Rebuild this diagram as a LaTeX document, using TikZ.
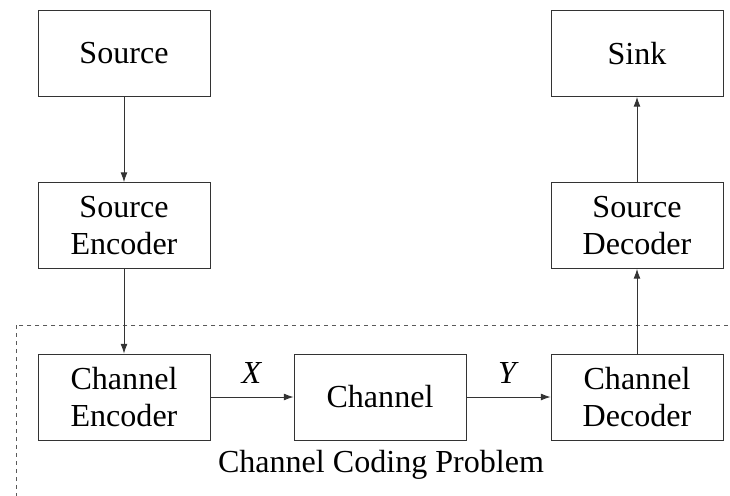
\documentclass[tikz,border=0pt]{standalone}
\usepackage{fontspec}
\setmainfont{Liberation Serif}
\usetikzlibrary{arrows.meta,positioning}

\begin{document}
\begin{tikzpicture}[x=0.025cm,y=-0.025cm,
  block/.style={draw=black!80,line width=0.6pt,minimum width=4.3cm,minimum height=2.15cm,
    inner sep=0pt,align=center,font=\fontsize{22.8}{26.3}\selectfont},
  conn/.style={draw=black!80,line width=0.6pt,-{Latex[length=0.24cm,width=0.17cm]}},
  lbl/.style={font=\fontsize{22.8}{26.3}\selectfont}]

% picture size:
\pgfmathsetmacro\pwidth{730};
\pgfmathsetmacro\pheight{495};
% columns and rows:
\pgfmathsetmacro\colA{124};
\pgfmathsetmacro\colB{380};
\pgfmathsetmacro\colC{637};
\pgfmathsetmacro\rowA{53.5};
\pgfmathsetmacro\rowB{225.5};
\pgfmathsetmacro\rowC{397};

\useasboundingbox (0,0) rectangle (\pwidth,\pheight);
\clip (0,0) rectangle (\pwidth,\pheight);

% channel coding part:
\draw[black!65,line width=0.6pt,dash pattern=on 0.1cm off 0.1cm] (16,325) rectangle (\pwidth+20,\pheight+20);

\node[block] (src) at (\colA,\rowA) {Source};
\node[block] (srcenc) at (\colA,\rowB) {Source\\Encoder};
\node[block] (chenc) at (\colA,\rowC) {Channel\\Encoder};
\node[block] (chan) at (\colB,\rowC) {Channel};
\node[block] (chdec) at (\colC,\rowC) {Channel\\Decoder};
\node[block] (srcdec) at (\colC,\rowB) {Source\\Decoder};
\node[block] (sink) at (\colC,\rowA) {Sink};
\node[lbl] (cclabel) at (381,465) {Channel Coding Problem};

\draw[conn] (src) -- (srcenc);
\draw[conn] (srcenc) -- (chenc);
\draw[conn] (chenc) -- node[lbl,above=0.2cm] {\textit{X}} (chan);
\draw[conn] (chan) -- node[lbl,above=0.2cm] {\textit{Y}} (chdec);
\draw[conn] (chdec) -- (srcdec);
\draw[conn] (srcdec) -- (sink);

\end{tikzpicture}
\end{document}
